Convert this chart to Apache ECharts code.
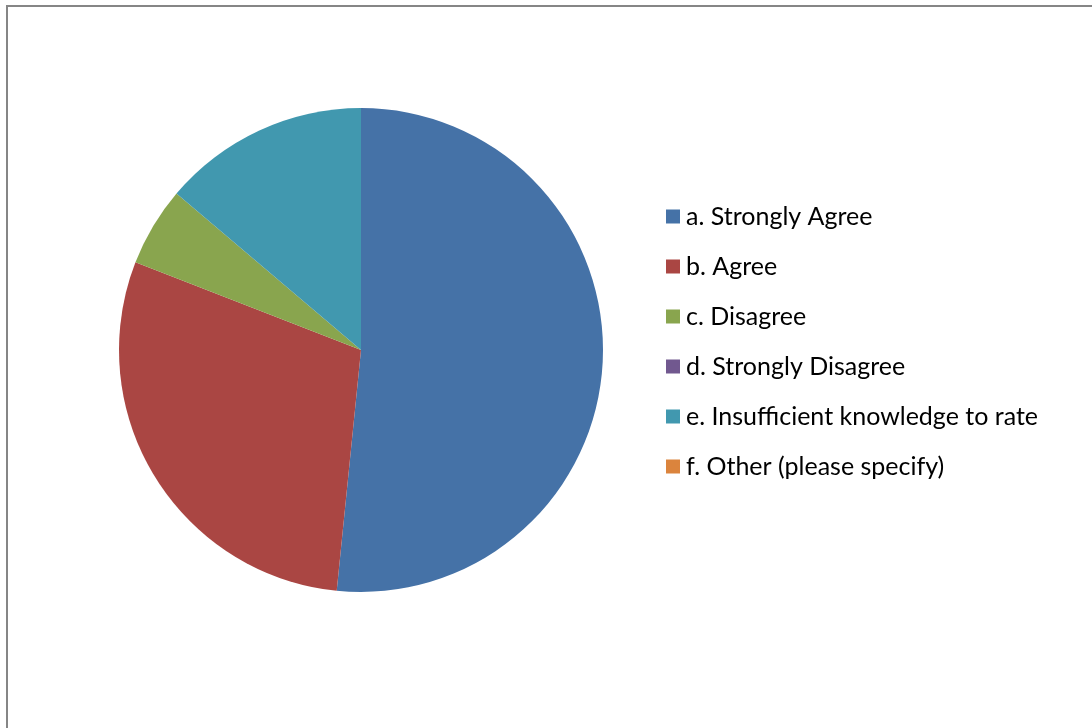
<!DOCTYPE html>
<html>
<head>
<meta charset="utf-8">
<script src="https://cdn.jsdelivr.net/npm/echarts@6/dist/echarts.min.js"></script>
<style>
  html, body { margin: 0; padding: 0; background: #ffffff; }
  #chart { width: 1092px; height: 728px; }
</style>
</head>
<body>
<div id="chart"></div>
<script>
// Survey response categories and their shares (percent)
const categories = [
  'a. Strongly Agree',
  'b. Agree',
  'c. Disagree',
  'd. Strongly Disagree',
  'e. Insufficient knowledge to rate',
  'f. Other (please specify)'
];
const shares = [51.6, 29.3, 5.3, 0, 13.8, 0];
const palette = ['#4572A7', '#AA4643', '#89A54E', '#71588F', '#4198AF', '#DB843D'];

const chart = echarts.init(document.getElementById('chart'), null, { renderer: 'canvas' });

chart.setOption({
  backgroundColor: '#ffffff',
  animation: false,
  color: palette,
  graphic: [{
    type: 'rect',
    shape: { x: 7, y: 6, width: 1200, height: 900 },
    style: { fill: 'none', stroke: '#868686', lineWidth: 2 },
    silent: true
  }],
  legend: {
    orient: 'vertical',
    left: 666,
    top: 204,
    padding: 0,
    itemWidth: 14,
    itemHeight: 14,
    itemGap: 25,
    icon: 'rect',
    textStyle: {
      fontFamily: 'Lato, "Open Sans", sans-serif',
      fontSize: 25,
      lineHeight: 24,
      color: '#000000',
      padding: [0, 0, 0, 1]
    },
    data: categories
  },
  series: [{
    type: 'pie',
    center: [361, 350],
    radius: [0, 242],
    startAngle: 90,
    clockwise: true,
    label: { show: false },
    labelLine: { show: false },
    emphasis: { disabled: true },
    itemStyle: { borderWidth: 0 },
    data: categories.map((name, i) => ({ name, value: shares[i] }))
  }]
});
</script>
</body>
</html>
